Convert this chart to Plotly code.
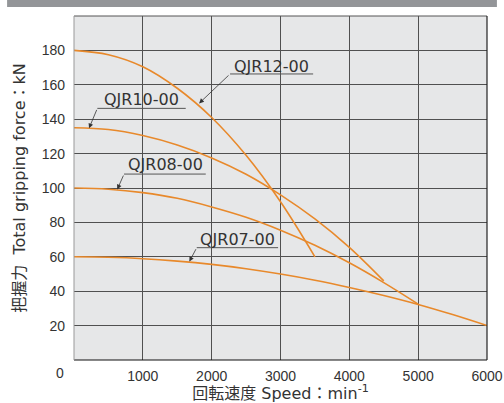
import plotly.graph_objects as go

# Speed (min^-1) and total gripping force (kN)
speed_12 = [0, 500, 1000, 1500, 2000, 2500, 3000, 3500]
force_12 = [180, 177.5, 170.5, 158, 141, 119, 92, 60]

speed_10 = [0, 500, 1000, 1500, 2000, 2500, 3000, 3500, 4000, 4500]
force_10 = [135, 134, 130.5, 125, 117.5, 108, 96, 82, 65.5, 46]

speed_08 = [0, 500, 1000, 1500, 2000, 2500, 3000, 3500, 4000, 4500, 5000]
force_08 = [100, 99.3, 97.3, 94, 89, 83, 75.5, 66.7, 56.5, 45, 32.5]

speed_07 = [0, 500, 1000, 1500, 2000, 2500, 3000, 3500, 4000, 4500, 5000, 5500, 6000]
force_07 = [60, 59.7, 58.9, 57.5, 55.6, 53.1, 50, 46.4, 42.2, 37.5, 32.3, 26.4, 20]

series_names = ["QJR12-00", "QJR10-00", "QJR08-00", "QJR07-00"]
x_ticks = [1000, 2000, 3000, 4000, 5000, 6000]
y_ticks = [20, 40, 60, 80, 100, 120, 140, 160, 180]

ORANGE = "#e8892b"
TXT = "#333333"
LBL_FONT = dict(family="DejaVu Sans, Noto Sans CJK JP", size=16, color=TXT)
TICK_FONT = dict(family="Liberation Sans, Arial", size=14, color=TXT)
TITLE_FONT = dict(family="DejaVu Sans, Noto Sans CJK JP", size=16, color=TXT)

fig = go.Figure()
for sx, sy, nm in [(speed_12, force_12, series_names[0]),
                   (speed_10, force_10, series_names[1]),
                   (speed_08, force_08, series_names[2]),
                   (speed_07, force_07, series_names[3])]:
    fig.add_trace(go.Scatter(x=sx, y=sy, mode="lines", name=nm,
                             line=dict(color=ORANGE, width=1.6, shape="spline"),
                             showlegend=False, hoverinfo="skip"))

# label placement: (text center x, y), underline (x0, x1, y), arrow tail -> tip
labels = [
    (series_names[0], 2871, 170.7, 2267, 3474, 166.3, 1817, 149.2),
    (series_names[1], 984, 151.2, 339, 1623, 146.3, 218, 134.7),
    (series_names[2], 1330, 113.4, 727, 1914, 108.1, 629, 99.2),
    (series_names[3], 2369, 70.3, 1783, 2965, 65.3, 1676, 57.2),
]

annotations = []
shapes = []
for txt, tx, ty, ux0, ux1, uy, hx, hy in labels:
    annotations.append(dict(x=tx, y=ty, xref="x", yref="y", text=txt, showarrow=False,
                            font=LBL_FONT, xanchor="center", yanchor="middle"))
    shapes.append(dict(type="line", xref="x", yref="y", x0=ux0, x1=ux1, y0=uy, y1=uy,
                       line=dict(color="#555555", width=1)))
    annotations.append(dict(x=hx, y=hy, xref="x", yref="y", ax=ux0, ay=uy,
                            axref="x", ayref="y", text="", showarrow=True,
                            arrowhead=2, arrowsize=1.2, arrowwidth=0.8,
                            arrowcolor="#333333", standoff=0, startstandoff=0))

# origin label
annotations.append(dict(x=0, y=0, xref="x", yref="y", text="0", showarrow=False,
                        xshift=-14, yshift=-13, font=TICK_FONT))

# borders
shapes += [
    dict(type="line", xref="paper", yref="paper", x0=0, x1=1, y0=0, y1=0,
         line=dict(color="#111111", width=1.2)),
    dict(type="line", xref="paper", yref="paper", x0=0, x1=1, y0=1, y1=1,
         line=dict(color="#555555", width=1)),
    dict(type="line", xref="paper", yref="paper", x0=0, x1=0, y0=0, y1=1,
         line=dict(color="#999999", width=1)),
    dict(type="line", xref="paper", yref="paper", x0=1, x1=1, y0=0, y1=1,
         line=dict(color="#222222", width=1.2)),
    # gray header band
    dict(type="rect", xref="paper", yref="paper", x0=-0.162, x1=1.024,
         y0=1 + 9 / 344, y1=1 + 17 / 344, line=dict(width=0), fillcolor="#939598",
         layer="above"),
]

fig.update_layout(
    width=504, height=403,
    margin=dict(l=74, r=17, t=16, b=43, autoexpand=False),
    paper_bgcolor="white", plot_bgcolor="#e6e7e8",
    annotations=annotations, shapes=shapes,
    xaxis=dict(range=[0, 6000], tickvals=x_ticks, ticktext=[str(v) for v in x_ticks],
               showgrid=True, gridcolor="#505050", gridwidth=1, zeroline=False,
               showline=False, ticks="", ticklen=0, automargin=False,
               ticklabelstandoff=6, tickfont=TICK_FONT,
               title=dict(text="回転速度 Speed：min<sup>-1</sup>", standoff=4,
                          font=TITLE_FONT)),
    yaxis=dict(range=[0, 200], tickvals=y_ticks, ticktext=[str(v) for v in y_ticks],
               showgrid=True, gridcolor="#505050", gridwidth=1, zeroline=False,
               showline=False, ticks="", ticklen=0, automargin=False,
               ticklabelstandoff=8, tickfont=TICK_FONT,
               title=dict(text="把握力  Total gripping force：kN", standoff=12,
                          font=TITLE_FONT)),
)

fig.write_html("out.html",
               config={"displayModeBar": False},
               post_script="document.body.style.margin='0px';document.body.style.padding='0px';")
